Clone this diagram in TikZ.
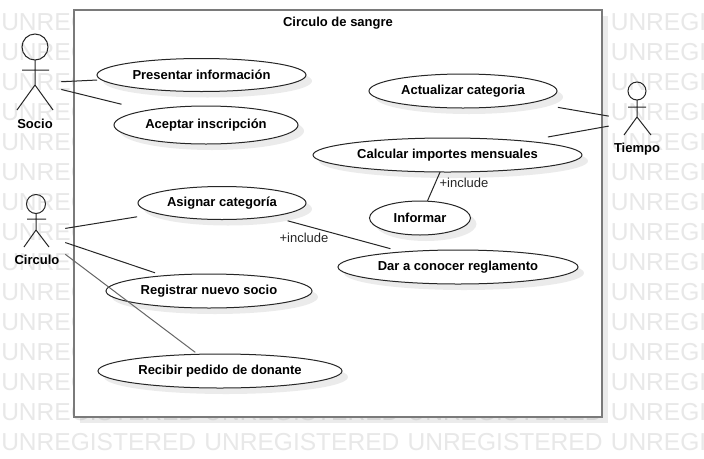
\documentclass[tikz,border=0pt]{standalone}
\usepackage{fontspec}
\setmainfont{Liberation Sans}
\usetikzlibrary{shapes.geometric,shadows}
\newcommand{\px}{0.75pt}

\begin{document}
\begin{tikzpicture}[
    x=0.75pt, y=-0.75pt,
    watermark/.style={anchor=west, inner sep=0pt, text=black!9, font=\fontsize{18.4pt}{18.4pt}\selectfont},
    softshadow/.style={drop shadow={shadow xshift=6*\px, shadow yshift=-6*\px, fill=black, opacity=0.08}},
    systembox/.style={rectangle, draw=black!52, line width=2.4*\px, fill=white, softshadow,
        minimum width=528*\px, minimum height=407*\px, inner sep=0pt},
    usecase/.style={ellipse, draw=black!85, line width=\px, fill=white, softshadow,
        minimum height=34*\px, inner sep=0pt, font=\fontsize{9.75pt}{9.75pt}\selectfont\bfseries},
    actor/.style={rectangle, inner sep=0pt},
    stick/.style={draw=black!85, line width=\px},
    label/.style={inner sep=0pt, font=\fontsize{9.75pt}{9.75pt}\selectfont\bfseries},
    includelabel/.style={inner sep=0pt, text=black!85, font=\fontsize{9.75pt}{9.75pt}\selectfont},
    edge/.style={draw=black!85, line width=\px}
]
    \clip (0,0) rectangle (704,458);
    \fill[white] (0,0) rectangle (704,458);
    \foreach \row in {0,...,14}
        \node[watermark] (wm\row) at (1,22+30*\row) {UNREGISTERED\hspace{6.2pt}UNREGISTERED\hspace{6.2pt}UNREGISTERED\hspace{6.2pt}UNREGISTERED};

    \node[systembox] (system) at (338,213.5) {};
    \node[label] (title) at (338,23) {Circulo de sangre};

    \node[usecase, minimum width=209*\px, minimum height=33*\px] (presentar) at (201.5,75) {Presentar información};
    \node[usecase, minimum width=184*\px, minimum height=38*\px] (aceptar) at (206,125) {Aceptar inscripción};
    \node[usecase, minimum width=168*\px, minimum height=33*\px] (asignar) at (222,203) {Asignar categoría};
    \node[usecase, minimum width=206*\px] (registrar) at (209,291) {Registrar nuevo socio};
    \node[usecase, minimum width=244*\px] (recibir) at (220,371) {Recibir pedido de donante};
    \node[usecase, minimum width=188*\px] (actualizar) at (463,91) {Actualizar categoria};
    \node[usecase, minimum width=269*\px] (calcular) at (447.5,155) {Calcular importes mensuales};
    \node[usecase, minimum width=101*\px] (informar) at (420,218) {Informar};
    \node[usecase, minimum width=240*\px] (reglamento) at (458,267) {Dar a conocer reglamento};

    % actors
    \node[actor, minimum width=52*\px, minimum height=98*\px] (socio) at (35,83) {};
    \node[actor, minimum width=56*\px, minimum height=76*\px] (circulo) at (37,233) {};
    \node[actor, minimum width=56*\px, minimum height=78*\px] (tiempo) at (637,121) {};
    \node[label] (sociolabel) at (35,124) {Socio};
    \node[label] (circulolabel) at (37,260) {Circulo};
    \node[label] (tiempolabel) at (637,149) {Tiempo};

    \draw[stick] (35,47) circle [radius=13];
    \draw[stick] (35,60) -- (35,85) (22,70) -- (49,70) (17,110) -- (35,85) -- (53,110);
    \draw[stick] (36,204) circle [radius=9.5];
    \draw[stick] (36,213.5) -- (36,230) (27,219) -- (46,219) (24,247) -- (36,230) -- (49,247);
    \draw[stick] (637,91) circle [radius=9];
    \draw[stick] (637,100) -- (637,117) (628,107) -- (646,107) (624,135) -- (637,117) -- (651,135);

    \draw[edge, shorten >=104.6*\px] (socio) -- (presentar.center);
    \draw[edge, shorten >=87*\px] (socio) -- (aceptar.center);
    \draw[edge, shorten >=86*\px] (circulo) -- (asignar.center);
    \draw[edge, shorten >=57*\px] (circulo) -- (registrar.center);
    \draw[edge, draw=black!60, shorten >=31*\px] (circulo) -- (recibir.center);
    \draw[edge, shorten >=96.3*\px] (tiempo) -- (actualizar.center);
    \draw[edge, shorten >=102*\px] (tiempo) -- (calcular.center);
    \draw[edge, shorten <=68*\px, shorten >=70*\px] (asignar.center) -- (reglamento.center);
    \draw[edge, shorten <=18.6*\px, shorten >=18.8*\px] (calcular.center) -- (informar.center);

    \node[includelabel] (include1) at (304,238) {+include};
    \node[includelabel] (include2) at (464,183) {+include};
\end{tikzpicture}
\end{document}
